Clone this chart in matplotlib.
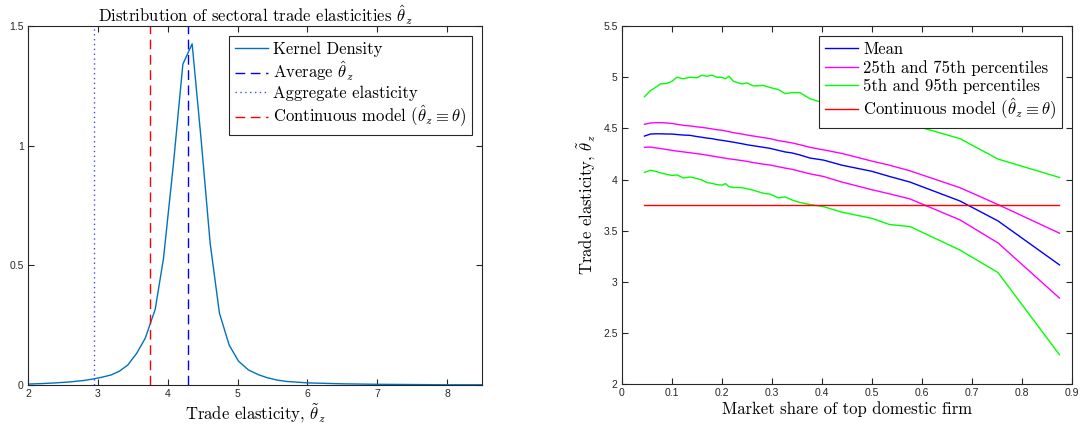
import matplotlib
matplotlib.use("Agg")
import matplotlib.pyplot as plt
from matplotlib.ticker import FormatStrFormatter

plt.rcParams['font.family'] = 'Liberation Sans'
plt.rcParams['mathtext.fontset'] = 'cm'

# ---- left panel: kernel density of sectoral elasticities
kd_x = [2.0, 2.2, 2.4, 2.6, 2.8, 2.93, 3.05, 3.19, 3.31, 3.43, 3.555, 3.678,
        3.821, 3.94, 4.083, 4.217, 4.35, 4.479, 4.608, 4.741, 4.88, 5.013,
        5.156, 5.3, 5.42, 5.56, 5.7, 5.85, 6.0, 6.5, 7.0, 7.5, 8.0, 8.5]
kd_y = [0.004, 0.006, 0.009, 0.013, 0.019, 0.025, 0.032, 0.042, 0.058, 0.084,
        0.132, 0.195, 0.316, 0.529, 0.926, 1.340, 1.425, 1.024, 0.592, 0.300,
        0.167, 0.100, 0.063, 0.043, 0.031, 0.021, 0.015, 0.012, 0.009, 0.005,
        0.003, 0.002, 0.001, 0.001]
avg_theta = 4.288
agg_elasticity = 2.944
continuous_theta = 3.75

# ---- right panel: elasticity by market share of top domestic firm
share = [0.045, 0.057, 0.067, 0.077, 0.090, 0.100, 0.110, 0.123, 0.136, 0.150,
         0.160, 0.170, 0.180, 0.190, 0.200, 0.207, 0.214, 0.223, 0.240, 0.250,
         0.263, 0.283, 0.296, 0.313, 0.326, 0.340, 0.356, 0.376, 0.403, 0.44,
         0.50, 0.535, 0.576, 0.676, 0.752, 0.875]
mean = [4.425, 4.445, 4.447, 4.447, 4.445, 4.445, 4.44, 4.435, 4.432, 4.42,
        4.413, 4.405, 4.40, 4.39, 4.383, 4.378, 4.372, 4.365, 4.35, 4.34,
        4.33, 4.315, 4.305, 4.285, 4.27, 4.26, 4.24, 4.21, 4.19, 4.14,
        4.08, 4.03, 3.975, 3.79, 3.595, 3.165]
p75 = [4.54, 4.553, 4.556, 4.556, 4.553, 4.548, 4.54, 4.53, 4.524, 4.515,
       4.51, 4.503, 4.495, 4.487, 4.482, 4.475, 4.468, 4.458, 4.445, 4.435,
       4.425, 4.41, 4.40, 4.38, 4.37, 4.358, 4.34, 4.315, 4.29, 4.255,
       4.18, 4.14, 4.085, 3.92, 3.755, 3.475]
p25 = [4.315, 4.317, 4.31, 4.303, 4.293, 4.285, 4.278, 4.27, 4.262, 4.253,
       4.246, 4.238, 4.23, 4.222, 4.213, 4.208, 4.202, 4.197, 4.185, 4.178,
       4.165, 4.15, 4.142, 4.125, 4.112, 4.10, 4.08, 4.055, 4.03, 3.975,
       3.90, 3.86, 3.81, 3.605, 3.38, 2.84]
p95 = [4.81, 4.87, 4.90, 4.935, 4.94, 4.96, 5.0, 4.985, 5.0, 4.995,
       5.02, 5.01, 5.02, 5.0, 5.0, 4.985, 5.01, 4.96, 4.935, 4.945,
       4.915, 4.92, 4.90, 4.88, 4.84, 4.85, 4.85, 4.79, 4.75, 4.70,
       4.65, 4.60, 4.54, 4.40, 4.20, 4.02]
p5 = [4.07, 4.09, 4.08, 4.065, 4.05, 4.04, 4.045, 4.015, 4.025, 4.01,
      3.995, 3.97, 3.962, 3.95, 3.945, 3.96, 3.93, 3.922, 3.92, 3.91,
      3.895, 3.865, 3.858, 3.82, 3.83, 3.80, 3.775, 3.755, 3.735, 3.68,
      3.62, 3.56, 3.54, 3.31, 3.09, 2.286]

axcol = '#262626'
cm = 'cmr10'

fig = plt.figure(figsize=(10.86, 4.26), dpi=100)
ax1 = fig.add_axes([0.0258, 0.0962, 0.418, 0.843])
ax2 = fig.add_axes([0.5727, 0.0986, 0.4144, 0.840])

ax1.plot(kd_x, kd_y, color='#0072BD', lw=1.0, label='Kernel Density')
ax1.axvline(avg_theta, color='#0000ff', lw=1.0, dashes=(7, 4), label=r'Average $\hat{\theta}_z$')
ax1.axvline(agg_elasticity, color='#4444ff', lw=1.0, ls=(0, (1, 2.5)), label='Aggregate elasticity')
ax1.axvline(continuous_theta, color='#ff0000', lw=1.0, dashes=(7, 4),
            label=r'Continuous model ($\hat{\theta}_z\equiv\theta$)')
ax1.set_xlim(2, 8.5)
ax1.set_ylim(0, 1.5)
ax1.set_xticks([2, 3, 4, 5, 6, 7, 8])
ax1.set_yticks([0, 0.5, 1, 1.5])
ax1.set_title(r'Distribution of sectoral trade elasticities $\hat{\theta}_z$',
              fontfamily=cm, fontsize=12, pad=3)
ax1.set_xlabel(r'Trade elasticity, $\tilde{\theta}_z$', fontfamily=cm, fontsize=12, labelpad=2)

ax2.plot(share, mean, color='#0000ff', lw=1.0, label='Mean')
ax2.plot(share, p75, color='#ff00ff', lw=1.0, label='25th and 75th percentiles')
ax2.plot(share, p25, color='#ff00ff', lw=1.0)
ax2.plot(share, p95, color='#00ff00', lw=1.0, label='5th and 95th percentiles')
ax2.plot(share, p5, color='#00ff00', lw=1.0)
ax2.plot([share[0], share[-1]], [continuous_theta, continuous_theta], color='#ff0000', lw=1.0,
         label=r'Continuous model ($\hat{\theta}_z\equiv\theta$)')
ax2.set_xlim(0, 0.9)
ax2.set_ylim(2, 5.5)
ax2.set_xticks([0, 0.1, 0.2, 0.3, 0.4, 0.5, 0.6, 0.7, 0.8, 0.9])
ax2.set_yticks([2, 2.5, 3, 3.5, 4, 4.5, 5, 5.5])
ax2.set_xlabel('Market share of top domestic firm', fontfamily=cm, fontsize=12, labelpad=2)
ax2.set_ylabel(r'Trade elasticity, $\tilde{\theta}_z$', fontfamily=cm, fontsize=12, labelpad=4)

for ax in (ax1, ax2):
    ax.xaxis.set_major_formatter(FormatStrFormatter('%g'))
    ax.yaxis.set_major_formatter(FormatStrFormatter('%g'))
    ax.tick_params(direction='in', top=True, right=True, labelsize=7.5,
                   colors=axcol, length=4, width=0.8, pad=3)
    for s in ax.spines.values():
        s.set_color(axcol)
        s.set_linewidth(0.8)
    leg = ax.legend(loc='upper right', prop={'family': cm, 'size': 12}, fancybox=False,
                    framealpha=1, edgecolor=axcol, borderaxespad=0.6,
                    labelspacing=0.15, handlelength=2.0, handletextpad=0.3,
                    borderpad=0.35)
    leg.get_frame().set_linewidth(0.8)

fig.savefig('out.png', dpi=100)
